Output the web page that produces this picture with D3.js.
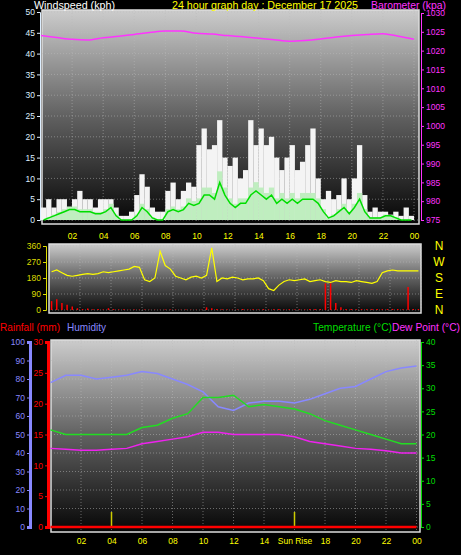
<!DOCTYPE html>
<html><head><meta charset="utf-8">
<script src="https://cdn.jsdelivr.net/npm/d3@7"></script>
<style>body{margin:0;background:#000}svg{display:block}text{font-family:"Liberation Sans",Arial,sans-serif}</style>
</head><body><svg id="c" width="461" height="555"></svg>
<script>
// 20-minute samples, 72 per day
const gust = [3,5,3, 5,5,3, 5,7,5, 5,3,5, 5,5,3, 1,1,2, 6,11,8, 3,2,2, 7,9,5, 7,9,8,
  18,22,17, 18,24,15, 13,15,10, 12,24,18, 22,18,20, 15,12,15, 18,12,14, 18,22,10,
  5,7,5, 6,10,5, 10,18,6, 2,3,2, 2,1,2, 1,3,1];
const avgWind = [0,0.5,1, 1.5,2,2.5, 2.5,2,2, 2,1.5,1.5, 2,3,1, 0,0,0, 1,3,2, 0.5,0,0,
  2,2.5,2, 2.5,4,3.5, 4,6,6, 5,9,6, 4,3,4, 4,6,7, 6,5,6, 4,5,4, 5,4,5, 5,5,4,
  2,0.5,1, 2,3,1.5, 3,5,2, 0.5,0.5,0.5, 1,1,0.5, 0,0,0];
const baroHours = [0,1,2,3,4,5,6,7,8,9,10,11,12,13,14,15,16,17,18,19,20,21,22,23,24];
const baro = [1024,1023.5,1023,1022.8,1023.4,1023.8,1024.3,1024.8,1025.2,1025.2,1024.6,1024.4,1024,1023.7,1023.3,1022.9,1022.5,1022.7,1023.1,1023.6,1024,1024.3,1024.5,1023.8,1023];
const windDir = [215,225,210, 195,190,195, 200,205,200, 205,215,210, 215,220,225, 230,245,240,
  170,160,180, 330,250,230, 190,180,170, 185,190,180, 195,350,160, 180,175,185,
  180,170,175, 175,180,165, 120,110,140, 160,170,165, 170,175,160, 165,170,160,
  155,165,160, 160,155,165, 160,155,150, 160,210,220, 225,220,220, 220,220,220];
const rainRate = [50,60,40, 30,20,10, 5,8,4, 6,3,10, 5,3,4, 2,3,2, 3,2,2, 2,3,3, 2,2,3, 2,2,2,
  15,10,5, 4,3,2, 3,5,3, 4,3,5, 3,4,5, 3,4,3, 4,3,5, 5,5,150, 150,40,15, 5,6,4,
  5,4,6, 5,4,5, 6,5,4, 130,5,5];
const hours = [0,1,2,3,4,5,6,7,8,9,10,11,12,13,14,15,16,17,18,19,20,21,22,23,24];
const humidity = [78,82,82,80,81,82,84,83,80,77,73,65,63,67,68,68,67,69,72,75,76,80,84,86,87];
const temperature = [21,20,20,20,20,20,21.5,22,23.5,24.5,28,28,28.5,26,26.5,26,25.5,24.5,23,22,21,20,19,18,18];
const dewPoint = [17,16.8,16.6,16.6,16.8,17,18,18.5,19,19.5,20.5,20.5,20,20,20,20,19.5,18.5,18,17.5,17,16.8,16.5,16,16];
const rainfall = [0,0,0,0,0,0,0,0,0,0,0,0,0,0,0,0,0,0,0,0,0,0,0,0,0];
const hourTicks = [2,4,6,8,10,12,14,16,18,20,22,24];
const windTicks = [0,5,10,15,20,25,30,35,40,45,50];
const baroTicks = [975,980,985,990,995,1000,1005,1010,1015,1020,1025,1030];
const dirTicks = [0,90,180,270,360];
const compass = ["N","W","S","E","N"];
const humTicks = [0,10,20,30,40,50,60,70,80,90,100];
const rainTicks = [0,5,10,15,20,25,30];
const tempTicks = [0,5,10,15,20,25,30,35,40];
const sunMarks = [4,16];

const svg = d3.select("#c");
const defs = svg.append("defs");
const g = defs.append("linearGradient").attr("id","bg").attr("x1",0).attr("x2",0).attr("y1",0).attr("y2",1);
g.append("stop").attr("offset","0%").attr("stop-color","#cccccc");
g.append("stop").attr("offset","50%").attr("stop-color","#606060");
g.append("stop").attr("offset","100%").attr("stop-color","#050505");
const hh = d => String(d%24).padStart(2,"0");
const fs = 8.5;

function label(x, y, w, color, txt){
  svg.append("text").attr("x",x).attr("y",y).attr("fill",color).attr("font-size",11)
    .attr("textLength",w).attr("lengthAdjust","spacingAndGlyphs").text(txt);
}
function panel(x0,x1,y0,y1){
  svg.append("rect").attr("x",x0).attr("y",y0).attr("width",x1-x0).attr("height",y1-y0)
    .attr("fill","url(#bg)").attr("stroke","#ddd").attr("stroke-width",1.5);
}
function grid(x, y, yt, xt, x0, x1, y0, y1){
  svg.append("g").selectAll("line").data(yt).join("line")
    .attr("x1",x0).attr("x2",x1).attr("y1",d=>y(d)).attr("y2",d=>y(d))
    .attr("stroke","#bbb").attr("stroke-opacity",0.5).attr("stroke-dasharray","1,2");
  svg.append("g").selectAll("line").data(xt).join("line")
    .attr("y1",y0).attr("y2",y1).attr("x1",d=>x(d)).attr("x2",d=>x(d))
    .attr("stroke","#bbb").attr("stroke-opacity",0.5).attr("stroke-dasharray","1,2");
}
function yAxis(scale, ticks, xPos, color, right, lineColor){
  const ax = (right ? d3.axisRight(scale) : d3.axisLeft(scale)).tickValues(ticks)
    .tickSize(3).tickPadding(2).tickFormat(d3.format("d"));
  const a = svg.append("g").attr("transform",`translate(${xPos},0)`).call(ax);
  a.select(".domain").attr("stroke",lineColor||color).attr("stroke-width",lineColor?3:1);
  a.selectAll(".tick line").attr("stroke",color);
  a.selectAll("text").attr("fill",color).attr("font-size",fs);
  return a;
}
function xAxis(scale, yPos, labels){
  const a = svg.append("g").attr("transform",`translate(0,${yPos})`)
    .call(d3.axisBottom(scale).tickValues(hourTicks).tickSize(0).tickPadding(5).tickFormat(labels||hh));
  a.select(".domain").remove();
  a.selectAll("text").attr("fill","#ffff00").attr("font-size",fs);
}

// ---- Top panel: wind + barometer
const t = {x0:42,x1:419,y0:10,y1:224};
panel(t.x0,t.x1,t.y0,t.y1);
const xT = d3.scaleLinear().domain([0,24]).range([41,414]);
const yW = d3.scaleLinear().domain([0,50]).range([220,12]);
const yB = d3.scaleLinear().domain([975,1030]).range([220,13]);
grid(xT,yW,windTicks,hourTicks,t.x0,t.x1,t.y0,t.y1);
const tW = i => i/3 + 1/6;
svg.append("g").selectAll("line").data(gust).join("line")
  .attr("x1",(d,i)=>xT(tW(i))).attr("x2",(d,i)=>xT(tW(i))).attr("y1",yW(0)).attr("y2",d=>yW(d))
  .attr("stroke","#f4f4f4").attr("stroke-width",5.3);
svg.append("g").selectAll("line").data(avgWind).join("line")
  .attr("x1",(d,i)=>xT(tW(i))).attr("x2",(d,i)=>xT(tW(i))).attr("y1",yW(0)).attr("y2",d=>yW(d*1.3))
  .attr("stroke","#bfeebf").attr("stroke-width",5.3);
svg.append("path").datum(avgWind).attr("fill","none").attr("stroke","#00dd00").attr("stroke-width",1.5)
  .attr("d",d3.line().x((d,i)=>xT(tW(i))).y(d=>yW(d)));
svg.append("path").datum(baro).attr("fill","none").attr("stroke","#ff33ff").attr("stroke-width",1.5)
  .attr("d",d3.line().x((d,i)=>xT(baroHours[i])).y(d=>yB(d)).curve(d3.curveMonotoneX));
yAxis(yW,windTicks,40,"#ddeeff",false,null);
yAxis(yB,baroTicks,421,"#ff33ff",true,null);
xAxis(xT,228);
label(34,9,81,"#fff","Windspeed (kph)");
label(172,9,186,"#ffff00","24 hour graph day : December 17 2025");
label(371,9,75,"#ff33ff","Barometer (kpa)");

// ---- Middle panel: wind direction
const m = {x0:49,x1:421,y0:244,y1:313};
panel(m.x0,m.x1,m.y0,m.y1);
const xM = d3.scaleLinear().domain([0,24]).range([49,421]);
const yD = d3.scaleLinear().domain([0,360]).range([310,246]);
grid(xM,yD,dirTicks,hourTicks,m.x0,m.x1,m.y0,m.y1);
svg.append("g").selectAll("line").data(rainRate).join("line")
  .attr("x1",(d,i)=>xM(tW(i))).attr("x2",(d,i)=>xM(tW(i))).attr("y1",yD(0)).attr("y2",d=>yD(d))
  .attr("stroke","#ff0000").attr("stroke-width",1.5);
svg.append("path").datum(windDir).attr("fill","none").attr("stroke","#ffff00").attr("stroke-width",1.2)
  .attr("d",d3.line().x((d,i)=>xM(tW(i))).y(d=>yD(d)));
yAxis(yD,dirTicks,46,"#dddd00",false,null);
svg.append("g").selectAll("text").data(compass).join("text")
  .attr("x",439).attr("y",(d,i)=>yD(360-i*90)+4).attr("text-anchor","middle")
  .attr("fill","#ffff00").attr("font-size",12).text(d=>d);

// ---- Bottom panel: humidity / temperature
label(0,331,60,"#ff0000","Rainfall (mm)");
label(67,331,39,"#8888ff","Humidity");
label(313,331,79,"#00dd00","Temperature (°C)");
label(392,331,68,"#ff33ff","Dew Point (°C)");
const b = {x0:51,x1:420,y0:340,y1:532};
panel(b.x0,b.x1,b.y0,b.y1);
const xB = d3.scaleLinear().domain([0,24]).range([50.5,416.5]);
const yH = d3.scaleLinear().domain([0,100]).range([527,342]);
const yR = d3.scaleLinear().domain([0,30]).range([527,342]);
const yTm = d3.scaleLinear().domain([0,40]).range([527,342]);
grid(xB,yH,humTicks,hourTicks,b.x0,b.x1,b.y0,b.y1);
svg.append("g").selectAll("line").data(sunMarks).join("line")
  .attr("x1",d=>xB(d)).attr("x2",d=>xB(d)).attr("y1",512).attr("y2",527)
  .attr("stroke","#cccc00").attr("stroke-width",1.5);
svg.append("path").datum(rainfall).attr("fill","none").attr("stroke","#ff0000").attr("stroke-width",2.5)
  .attr("d",d3.line().x((d,i)=>xB(hours[i])).y(d=>yR(d)));
const line = arr => d3.line().x((d,i)=>xB(hours[i])).y(d=>arr(d));
svg.append("path").datum(humidity).attr("fill","none").attr("stroke","#8888ff").attr("stroke-width",1.5).attr("d",line(yH));
svg.append("path").datum(temperature).attr("fill","none").attr("stroke","#22dd22").attr("stroke-width",1.5).attr("d",line(yTm));
svg.append("path").datum(dewPoint).attr("fill","none").attr("stroke","#ee22ee").attr("stroke-width",1.5).attr("d",line(yTm));
yAxis(yH,humTicks,30,"#8888ff",false,"#8888ff");
yAxis(yR,rainTicks,48,"#ff0000",false,"#ff0000");
yAxis(yTm,tempTicks,421,"#00dd00",true,null);
xAxis(xB,533,d=>d===16?"Sun Rise":hh(d));
</script></body></html>
